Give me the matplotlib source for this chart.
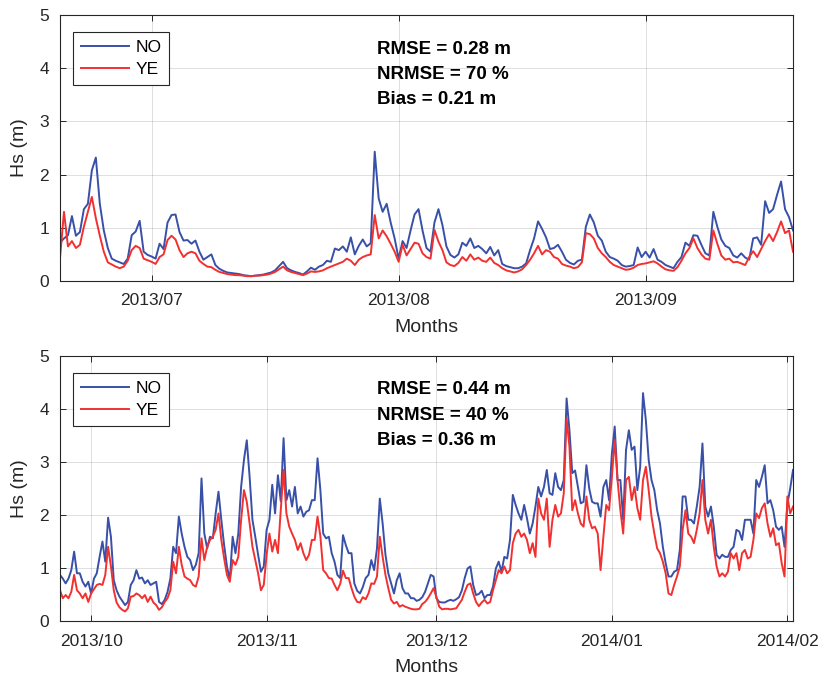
import pandas as pd
import matplotlib
matplotlib.use("Agg")
from matplotlib import pyplot as plt
from matplotlib import dates as mdates
from matplotlib import font_manager

# significant wave height, 12-hourly, two model runs
top_start = "2013-06-19 12:00"
top_no = [0.72, 0.80, 0.86, 1.22, 0.85, 0.92, 1.35, 1.45, 2.08, 2.32,
          1.45, 0.95, 0.62, 0.42, 0.38, 0.35, 0.32, 0.42, 0.86, 0.93,
          1.13, 0.55, 0.49, 0.46, 0.42, 0.70, 0.60, 1.10, 1.24, 1.25,
          0.92, 0.76, 0.77, 0.70, 0.76, 0.55, 0.40, 0.45, 0.50, 0.30,
          0.23, 0.19, 0.16, 0.15, 0.14, 0.13, 0.11, 0.10, 0.09, 0.10,
          0.11, 0.12, 0.14, 0.16, 0.20, 0.28, 0.36, 0.24, 0.20, 0.17,
          0.15, 0.12, 0.18, 0.25, 0.21, 0.27, 0.30, 0.38, 0.36, 0.61,
          0.58, 0.65, 0.55, 0.82, 0.50, 0.66, 0.78, 0.65, 0.71, 2.43,
          1.55, 1.30, 1.45, 1.10, 0.80, 0.42, 0.75, 0.62, 0.95, 1.25,
          1.35, 0.95, 0.62, 0.55, 1.10, 1.35, 1.05, 0.65, 0.49, 0.44,
          0.50, 0.72, 0.66, 0.80, 0.62, 0.66, 0.60, 0.52, 0.64, 0.48,
          0.58, 0.32, 0.28, 0.26, 0.24, 0.24, 0.27, 0.33, 0.58, 0.80,
          1.12, 0.98, 0.82, 0.60, 0.62, 0.68, 0.55, 0.40, 0.34, 0.31,
          0.38, 0.40, 1.02, 1.25, 1.10, 0.85, 0.76, 0.55, 0.45, 0.42,
          0.38, 0.30, 0.27, 0.28, 0.30, 0.63, 0.45, 0.55, 0.44, 0.60,
          0.40, 0.36, 0.30, 0.27, 0.24, 0.36, 0.45, 0.72, 0.66, 0.86,
          0.85, 0.68, 0.52, 0.48, 1.30, 1.02, 0.78, 0.66, 0.62, 0.48,
          0.44, 0.52, 0.44, 0.40, 0.80, 0.82, 0.68, 1.50, 1.28, 1.35,
          1.62, 1.87, 1.35, 1.20, 0.95]
top_ye = [0.43, 1.30, 0.65, 0.75, 0.62, 0.68, 1.02, 1.30, 1.58, 1.18,
          0.85, 0.55, 0.35, 0.31, 0.27, 0.24, 0.27, 0.38, 0.58, 0.66,
          0.62, 0.42, 0.39, 0.36, 0.32, 0.45, 0.50, 0.77, 0.85, 0.78,
          0.58, 0.45, 0.52, 0.55, 0.52, 0.38, 0.32, 0.27, 0.26, 0.21,
          0.17, 0.15, 0.13, 0.12, 0.11, 0.11, 0.10, 0.09, 0.09, 0.10,
          0.10, 0.11, 0.12, 0.14, 0.17, 0.22, 0.27, 0.20, 0.17, 0.15,
          0.13, 0.11, 0.14, 0.18, 0.17, 0.18, 0.20, 0.24, 0.27, 0.30,
          0.33, 0.36, 0.42, 0.38, 0.30, 0.40, 0.45, 0.48, 0.50, 1.24,
          0.80, 0.95, 0.84, 0.70, 0.55, 0.36, 0.68, 0.48, 0.60, 0.72,
          0.70, 0.52, 0.45, 0.42, 0.96, 0.74, 0.58, 0.35, 0.30, 0.28,
          0.34, 0.45, 0.38, 0.50, 0.40, 0.44, 0.38, 0.36, 0.44, 0.34,
          0.30, 0.24, 0.20, 0.18, 0.16, 0.18, 0.22, 0.30, 0.40, 0.52,
          0.66, 0.50, 0.58, 0.55, 0.45, 0.42, 0.32, 0.29, 0.27, 0.24,
          0.26, 0.35, 0.90, 0.88, 0.80, 0.62, 0.52, 0.45, 0.36, 0.30,
          0.27, 0.24, 0.21, 0.22, 0.25, 0.30, 0.32, 0.33, 0.35, 0.37,
          0.33, 0.27, 0.22, 0.20, 0.19, 0.26, 0.38, 0.52, 0.62, 0.80,
          0.62, 0.50, 0.42, 0.40, 0.95, 0.70, 0.48, 0.40, 0.42, 0.35,
          0.36, 0.33, 0.30, 0.45, 0.56, 0.45, 0.60, 0.75, 0.88, 0.75,
          0.92, 1.12, 0.90, 0.95, 0.55]

bot_start = "2013-09-25 12:00"
bot_no = [0.87, 0.80, 0.71, 0.80, 0.96, 1.31, 0.90, 0.90, 0.74, 0.65,
          0.74, 0.52, 0.80, 0.90, 1.21, 1.50, 1.12, 1.95, 1.59, 0.77,
          0.58, 0.46, 0.38, 0.30, 0.36, 0.68, 0.77, 0.96, 0.80, 0.82,
          0.71, 0.77, 0.68, 0.71, 0.74, 0.36, 0.32, 0.40, 0.55, 0.80,
          1.40, 1.28, 1.97, 1.65, 1.40, 1.21, 1.15, 0.96, 1.06, 1.28,
          2.69, 1.65, 1.37, 1.59, 1.56, 2.03, 2.44, 1.91, 1.43, 1.03,
          0.77, 1.59, 1.28, 1.65, 2.53, 3.04, 3.41, 2.72, 1.91, 1.59,
          1.25, 0.93, 1.03, 1.72, 1.91, 2.57, 2.03, 2.75, 2.26, 3.45,
          2.28, 2.47, 2.16, 2.53, 2.03, 2.16, 1.97, 2.06, 2.09, 2.28,
          2.28, 3.07, 2.47, 1.65, 1.56, 1.59, 1.28, 1.12, 0.87, 0.81,
          1.62, 1.43, 1.28, 1.28, 0.71, 0.57, 0.52, 0.64, 0.81, 0.87,
          1.15, 0.96, 1.37, 2.31, 1.84, 1.25, 0.90, 0.71, 0.52, 0.77,
          0.90, 0.62, 0.52, 0.52, 0.43, 0.43, 0.38, 0.40, 0.45, 0.55,
          0.71, 0.87, 0.84, 0.43, 0.36, 0.35, 0.35, 0.38, 0.40, 0.38,
          0.41, 0.45, 0.58, 0.81, 0.99, 1.03, 0.68, 0.49, 0.51, 0.57,
          0.43, 0.49, 0.49, 0.65, 0.99, 1.12, 0.93, 1.21, 1.18, 1.53,
          2.38, 2.19, 2.03, 1.91, 2.19, 1.94, 1.65, 1.84, 2.16, 2.53,
          2.35, 2.53, 2.85, 2.41, 2.38, 2.79, 2.53, 2.47, 2.66, 4.20,
          3.60, 2.79, 2.84, 2.53, 2.22, 2.25, 2.94, 2.50, 2.25, 2.22,
          2.22, 1.97, 2.53, 2.66, 2.28, 3.16, 3.67, 2.66, 2.66, 1.91,
          3.23, 3.60, 3.23, 3.29, 2.47, 2.91, 4.30, 3.79, 3.04, 2.66,
          2.47, 2.09, 1.84, 1.40, 1.09, 0.84, 0.84, 0.93, 0.96, 1.34,
          2.35, 2.35, 1.91, 1.91, 1.84, 2.16, 2.53, 3.35, 2.16, 1.97,
          2.16, 1.78, 1.25, 1.18, 1.25, 1.21, 1.21, 1.34, 1.40, 1.72,
          1.69, 1.53, 1.91, 1.91, 1.91, 1.65, 2.66, 2.53, 2.72, 2.94,
          2.22, 2.28, 2.09, 1.78, 1.72, 1.78, 1.40, 2.20, 2.50, 2.85]
bot_ye = [0.58, 0.43, 0.49, 0.43, 0.55, 0.87, 0.58, 0.52, 0.43, 0.52,
          0.36, 0.52, 0.60, 0.68, 0.70, 0.68, 0.87, 1.40, 1.03, 0.58,
          0.35, 0.26, 0.21, 0.18, 0.24, 0.46, 0.47, 0.52, 0.49, 0.43,
          0.49, 0.36, 0.46, 0.35, 0.30, 0.21, 0.26, 0.36, 0.43, 0.58,
          1.12, 0.90, 1.40, 1.06, 0.84, 0.80, 0.77, 0.68, 0.65, 0.84,
          1.56, 1.15, 1.40, 1.53, 1.59, 1.72, 2.03, 1.53, 1.18, 0.87,
          0.74, 1.15, 1.06, 1.21, 1.91, 2.47, 2.25, 1.84, 1.40, 1.15,
          0.90, 0.58, 0.68, 1.25, 1.65, 1.31, 1.53, 1.28, 2.09, 2.85,
          2.03, 1.78, 1.65, 1.53, 1.34, 1.47, 1.28, 1.15, 1.25, 1.53,
          1.53, 1.97, 1.60, 0.96, 0.90, 0.81, 0.80, 0.68, 0.58, 0.70,
          0.95, 0.81, 0.81, 0.62, 0.46, 0.36, 0.35, 0.45, 0.41, 0.52,
          0.71, 0.70, 0.84, 1.59, 1.21, 0.87, 0.62, 0.40, 0.33, 0.36,
          0.27, 0.30, 0.27, 0.25, 0.23, 0.22, 0.22, 0.23, 0.32, 0.36,
          0.43, 0.52, 0.62, 0.45, 0.27, 0.22, 0.23, 0.23, 0.22, 0.23,
          0.24, 0.32, 0.40, 0.55, 0.68, 0.71, 0.52, 0.36, 0.28, 0.35,
          0.40, 0.33, 0.36, 0.58, 0.77, 0.96, 0.90, 1.03, 0.90, 0.96,
          1.47, 1.65, 1.72, 1.59, 1.65, 1.53, 1.28, 1.47, 1.21, 2.31,
          2.03, 1.91, 2.31, 1.40, 1.91, 2.19, 1.97, 2.03, 2.41, 3.82,
          3.29, 2.09, 2.28, 2.03, 1.84, 1.78, 2.35, 1.91, 1.75, 1.78,
          1.65, 0.96, 1.59, 2.19, 2.09, 2.72, 3.42, 2.66, 2.09, 1.65,
          2.66, 2.72, 2.28, 2.53, 2.13, 1.91, 2.66, 2.91, 2.47, 1.97,
          1.65, 1.37, 1.28, 1.12, 0.90, 0.52, 0.49, 0.68, 0.84, 1.03,
          1.72, 2.09, 1.65, 1.59, 1.47, 1.72, 2.03, 2.66, 1.91, 1.65,
          1.91, 1.40, 1.03, 0.84, 0.90, 0.84, 0.93, 1.28, 1.18, 1.28,
          0.96, 1.28, 1.34, 1.18, 1.21, 1.53, 2.03, 1.94, 2.13, 2.22,
          1.84, 1.59, 1.75, 1.43, 1.47, 1.09, 0.84, 2.35, 2.03, 2.16]

top_months = ["2013-07-01", "2013-08-01", "2013-09-01"]
bot_months = ["2013-10-01", "2013-11-01", "2013-12-01", "2014-01-01", "2014-02-01"]
top_stats = ["RMSE = 0.28 m", "NRMSE = 70 %", "Bias = 0.21 m"]
bot_stats = ["RMSE = 0.44 m", "NRMSE = 40 %", "Bias = 0.36 m"]

plt.rcParams['font.family'] = ['Liberation Sans', 'DejaVu Sans']
installed = {f.name for f in font_manager.fontManager.ttflist}
narrow = 'Liberation Sans Narrow' if 'Liberation Sans Narrow' in installed else 'Liberation Sans'

dark = '#262626'
blue = '#3850A8'
red = '#F23030'


def panel(ax, start, no, ye, months, stats):
    t = pd.date_range(start, periods=len(no), freq='12h')
    ax.plot(t, no, color=blue, lw=1.4, label='NO')
    ax.plot(t, ye, color=red, lw=1.4, label='YE')
    ax.set_xlim(t[0], t[-1])
    ax.set_ylim(0, 5)
    ax.set_yticks(range(6))
    ax.set_xticks(pd.to_datetime(months))
    ax.xaxis.set_major_formatter(mdates.DateFormatter('%Y/%m'))
    ax.grid(True, color=dark, alpha=0.15, lw=0.7)
    ax.tick_params(direction='in', top=True, right=True, length=4,
                   width=0.7, color=dark, labelcolor=dark, labelsize=12.5)
    ax.tick_params(axis='x', pad=9)
    ax.tick_params(axis='y', pad=8)
    for lab in ax.get_xticklabels() + ax.get_yticklabels():
        lab.set_family(narrow)
    for s in ax.spines.values():
        s.set_color(dark)
        s.set_linewidth(0.8)
    ax.set_xlabel('Months', family=narrow, fontsize=14, color=dark)
    ax.set_ylabel('Hs (m)', family=narrow, fontsize=14, color=dark)
    ax.xaxis.set_label_coords(0.5, -0.142)
    ax.yaxis.set_label_coords(-0.043, 0.5)
    leg = ax.legend(loc='upper left', bbox_to_anchor=(0.0177, 0.936),
                    borderaxespad=0, fancybox=False, edgecolor=dark,
                    fontsize=12.5, handlelength=2.8, handletextpad=0.35,
                    labelspacing=0.4, borderpad=0.45, framealpha=1)
    leg.get_frame().set_linewidth(0.8)
    for y, s in zip([0.872, 0.775, 0.681], stats):
        ax.text(0.432, y, s, transform=ax.transAxes, fontsize=13.5,
                fontweight='bold', va='center', ha='left')


fig = plt.figure(figsize=(8.24, 6.81), dpi=100)
ax1 = fig.add_axes([0.0728, 0.5874, 0.8896, 0.3906])
ax2 = fig.add_axes([0.0728, 0.0881, 0.8896, 0.3891])
panel(ax1, top_start, top_no, top_ye, top_months, top_stats)
panel(ax2, bot_start, bot_no, bot_ye, bot_months, bot_stats)

fig.savefig('out.png', dpi=100)
